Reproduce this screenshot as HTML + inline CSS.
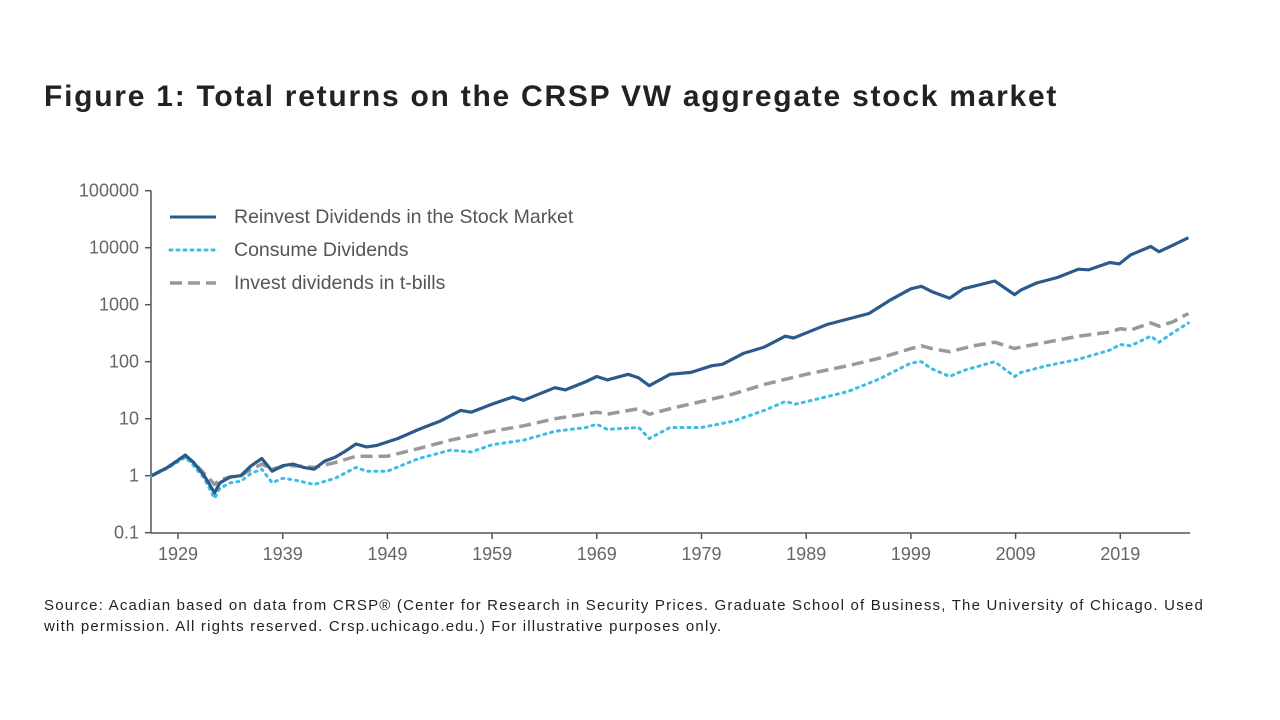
<!DOCTYPE html>
<html><head><meta charset="utf-8">
<style>
body{margin:0;width:1280px;height:720px;background:#fff;font-family:"Liberation Sans",sans-serif;overflow:hidden}
#title{position:absolute;left:44px;top:80px;font-size:30px;font-weight:bold;color:#222;letter-spacing:1.75px;white-space:nowrap}
#src{position:absolute;left:44px;top:595px;font-size:15px;color:#222;line-height:21px;width:1230px;letter-spacing:1.2px;white-space:nowrap}
svg{position:absolute;left:0;top:0}
</style></head>
<body>
<div id="title">Figure 1: Total returns on the CRSP VW aggregate stock market</div>
<svg id="chart" width="1280" height="720"></svg>
<div id="src">Source: Acadian based on data from CRSP® (Center for Research in Security Prices. Graduate School of Business, The University of Chicago. Used<br>with permission. All rights reserved. Crsp.uchicago.edu.) For illustrative purposes only.</div>
<script>
const yearTicks=[1929,1939,1949,1959,1969,1979,1989,1999,2009,2019];
const valueTicks=[0.1,1,10,100,1000,10000,100000];
const reinvestYears=[1926.5,1928,1929.7,1930.5,1931.5,1932.5,1933,1934,1935,1936,1937,1938,1939,1940,1941,1942,1943,1944,1945,1946,1947,1948,1950,1952,1954,1956,1957,1959,1961,1962,1965,1966,1968,1969,1970,1972,1973,1974,1976,1978,1980,1981,1983,1985,1987,1987.8,1990,1991,1995,1997,1999,2000,2001,2002.7,2004,2007,2008.9,2009.5,2011,2013,2015,2016,2018,2018.9,2020,2021.9,2022.7,2024,2025.5];
const reinvestValues=[1,1.4,2.3,1.7,1.0,0.5,0.75,0.95,1.0,1.5,2.0,1.2,1.5,1.6,1.4,1.3,1.8,2.1,2.7,3.6,3.2,3.4,4.5,6.5,9,14,13,18,24,21,35,32,45,55,48,60,52,38,60,65,85,90,140,180,280,260,380,450,700,1200,1900,2100,1700,1300,1900,2600,1500,1800,2400,3000,4200,4100,5500,5200,7500,10500,8500,11000,15000];
const consumeYears=[1926.5,1928,1929.7,1930.5,1931.5,1932.5,1933,1934,1935,1936,1937,1938,1939,1940,1942,1944,1946,1947,1949,1952,1955,1957,1959,1962,1965,1968,1969,1970,1973,1974,1976,1979,1982,1985,1987,1988,1990,1993,1996,1999,2000,2001,2002.7,2004,2007,2008.9,2009.5,2012,2015,2018,2019,2020,2021.9,2022.7,2024,2025.5];
const consumeValues=[1,1.35,2.1,1.5,0.9,0.4,0.6,0.75,0.8,1.1,1.3,0.75,0.9,0.85,0.7,0.9,1.4,1.2,1.2,2.0,2.8,2.6,3.5,4.2,6,7,8,6.5,7,4.5,7,7,9,14,20,18,22,30,50,95,100,75,55,70,100,55,65,85,110,160,200,190,280,220,320,480];
const tbillYears=[1926.5,1928,1929.7,1930.5,1931.5,1932.5,1933,1934,1935,1936,1937,1938,1939,1940,1942,1944,1946,1949,1952,1955,1959,1962,1965,1969,1970,1973,1974,1976,1979,1982,1985,1989,1993,1996,1999,2000,2001,2002.7,2005,2007,2008.9,2009.5,2012,2015,2018,2019,2020,2021.9,2022.7,2024,2025.5];
const tbillValues=[1,1.4,2.2,1.7,1.1,0.7,0.85,0.95,1.0,1.3,1.6,1.3,1.45,1.5,1.4,1.7,2.2,2.2,3.0,4.2,6,7.5,10,13,12,15,12,15,20,27,40,60,85,115,170,190,170,150,190,220,170,180,220,280,330,380,360,480,420,500,700];

const svg=document.getElementById('chart');
const NS='http://www.w3.org/2000/svg';
const x0=178,pxYear=10.47,y1=475.7,pxDec=57;
function X(yr){return x0+(yr-1929)*pxYear;}
function Y(v){return y1-Math.log10(v)*pxDec;}
function mk(tag,attrs,parent){const e=document.createElementNS(NS,tag);for(const k in attrs)e.setAttribute(k,attrs[k]);(parent||svg).appendChild(e);return e;}
const axL=151,axR=1190,axB=533;
const ya=mk('path',{d:`M${axL} ${Y(100000)}V${axB}`,stroke:'#555',fill:'none','stroke-width':1.5});


const xa=mk('path',{d:`M${axL} ${axB}H${axR}`,stroke:'#555',fill:'none','stroke-width':1.5});


valueTicks.forEach(v=>{
  mk('path',{d:`M${axL-6} ${Y(v)}H${axL}`,stroke:'#555','stroke-width':1.5});
  const t=mk('text',{x:axL-12,y:Y(v)+6,'text-anchor':'end','font-size':18,fill:'#666'});
  t.textContent=String(v);
  
  
});
yearTicks.forEach(yr=>{
  mk('path',{d:`M${X(yr)} ${axB}V${axB+6}`,stroke:'#555','stroke-width':1.5});
  const t=mk('text',{x:X(yr),y:axB+27,'text-anchor':'middle','font-size':18,fill:'#666'});
  t.textContent=String(yr);
  
  
});
function line(xs,vs,attrs,name){
  const d=xs.map((yr,i)=>(i?'L':'M')+X(yr).toFixed(1)+' '+Y(vs[i]).toFixed(1)).join('');
  const p=mk('path',Object.assign({d,fill:'none','stroke-linejoin':'round'},attrs));
  
  
}
line(tbillYears,tbillValues,{stroke:'#999','stroke-width':3.5,'stroke-dasharray':'12 6'},'series-tbills');
line(consumeYears,consumeValues,{stroke:'#3bbde6','stroke-width':3,'stroke-dasharray':'2 5','stroke-linecap':'round'},'series-consume');
line(reinvestYears,reinvestValues,{stroke:'#2a5b8a','stroke-width':3.2},'series-reinvest');
const leg=[['Reinvest Dividends in the Stock Market',{stroke:'#2a5b8a','stroke-width':3}],['Consume Dividends',{stroke:'#3bbde6','stroke-width':3,'stroke-dasharray':'2 5','stroke-linecap':'round'}],['Invest dividends in t-bills',{stroke:'#999','stroke-width':3.5,'stroke-dasharray':'12 6'}]];
leg.forEach((l,i)=>{
  const g=mk('g',{});
  
  
  const yy=217+i*33;
  mk('path',Object.assign({d:`M170 ${yy}H216`,fill:'none'},l[1]),g);
  const t=mk('text',{x:234,y:yy+6,'font-size':19.5,fill:'#555'},g);
  t.textContent=l[0];
});
</script>
</body></html>
